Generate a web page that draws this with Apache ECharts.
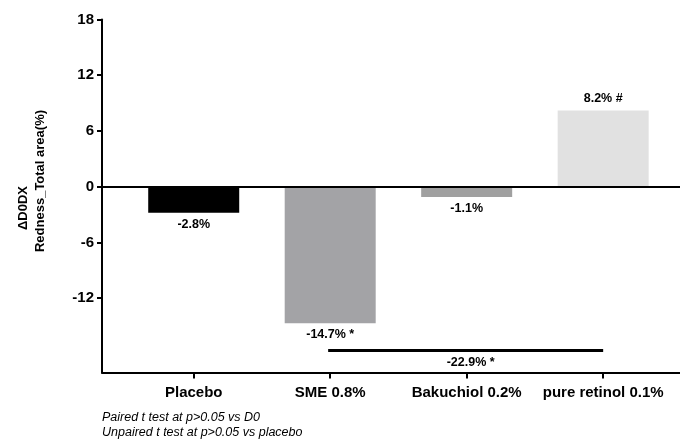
<!DOCTYPE html>
<html>
<head>
<meta charset="utf-8">
<script src="https://cdn.jsdelivr.net/npm/echarts@6/dist/echarts.min.js"></script>
<style>
html,body{margin:0;padding:0;background:#fff;}
#chart{width:680px;height:439px;}
</style>
</head>
<body>
<div id="chart"></div>
<script>
// ---- data ----
var categories = ['Placebo', 'SME 0.8%', 'Bakuchiol 0.2%', 'pure retinol 0.1%'];
var values = [-2.8, -14.7, -1.1, 8.2];
var valueLabels = ['-2.8%', '-14.7% *', '-1.1%', '8.2% #'];
var barColors = ['#000000', '#a3a3a6', '#a0a0a0', '#e1e1e1'];
var yTickValues = [-12, -6, 0, 6, 12, 18];
var bracketFrom = 0.985, bracketTo = 3, bracketValue = -17.6;
var bracketLabel = '-22.9% *';
var yTitleLine1 = '\u0394D0DX';
var yTitleLine2 = 'Redness_Total area(%)';
var footnotes = ['Paired t test at p>0.05 vs D0', 'Unpaired t test at p>0.05 vs placebo'];

var FONT = '"Liberation Sans", Arial, Helvetica, sans-serif';

var barData = values.map(function (v, i) {
  return {
    value: [i, v],
    itemStyle: { color: barColors[i] },
    label: {
      show: true,
      position: v < 0 ? 'bottom' : 'top',
      distance: 5,
      formatter: valueLabels[i]
    }
  };
});

var chart = echarts.init(document.getElementById('chart'), null, { renderer: 'canvas' });
chart.setOption({
  animation: false,
  backgroundColor: '#ffffff',
  grid: { left: 102, right: 0, top: 19.5, bottom: 66.5, containLabel: false },
  xAxis: {
    type: 'value',
    min: -0.672,
    max: 3.563,
    splitLine: { show: false },
    axisLine: { onZero: false, lineStyle: { color: '#000', width: 2 } },
    axisTick: { show: true, length: 6, customValues: [0, 1, 2, 3], lineStyle: { color: '#000', width: 2 } },
    axisLabel: {
      customValues: [0, 1, 2, 3],
      formatter: function (v) { return categories[Math.round(v)]; },
      margin: 13,
      color: '#000',
      fontFamily: FONT,
      fontWeight: 'bold',
      fontSize: 15
    }
  },
  yAxis: {
    type: 'value',
    min: -20,
    max: 18,
    splitLine: { show: false },
    axisLine: { show: true, onZero: false, lineStyle: { color: '#000', width: 2 } },
    axisTick: { show: true, length: 5, customValues: yTickValues, lineStyle: { color: '#000', width: 2 } },
    axisLabel: {
      customValues: yTickValues,
      margin: 8,
      color: '#000',
      fontFamily: FONT,
      fontWeight: 'bold',
      fontSize: 15
    }
  },
  series: [{
    type: 'bar',
    barWidth: 91,
    data: barData,
    label: {
      color: '#000',
      fontFamily: FONT,
      fontWeight: 'bold',
      fontSize: 12.5
    },
    markLine: {
      silent: true,
      symbol: ['none', 'none'],
      animation: false,
      data: [
        [{ coord: [-0.672, 0], lineStyle: { color: '#000', width: 2, type: 'solid' }, label: { show: false } },
         { coord: [3.563, 0] }],
        [{ coord: [bracketFrom, bracketValue], lineStyle: { color: '#000', width: 3, type: 'solid' },
           label: { show: true, position: 'insideMiddleBottom', formatter: bracketLabel, distance: 6,
                    offset: [5, 0], color: '#000', fontFamily: FONT, fontWeight: 'bold', fontSize: 12.5 } },
         { coord: [bracketTo, bracketValue] }]
      ]
    }
  }],
  graphic: [
    { type: 'text', x: 23, y: 208, rotation: Math.PI / 2,
      style: { text: yTitleLine1, textAlign: 'center', textVerticalAlign: 'middle', fill: '#000',
               font: 'bold 13px ' + FONT } },
    { type: 'text', x: 40, y: 181, rotation: Math.PI / 2,
      style: { text: yTitleLine2, textAlign: 'center', textVerticalAlign: 'middle', fill: '#000',
               font: 'bold 13px ' + FONT } },
    { type: 'text', x: 102, y: 418,
      style: { text: footnotes[0], textAlign: 'left', textVerticalAlign: 'middle', fill: '#000',
               font: 'italic 12.5px ' + FONT } },
    { type: 'text', x: 102, y: 433,
      style: { text: footnotes[1], textAlign: 'left', textVerticalAlign: 'middle', fill: '#000',
               font: 'italic 12.5px ' + FONT } }
  ]
});
</script>
</body>
</html>
